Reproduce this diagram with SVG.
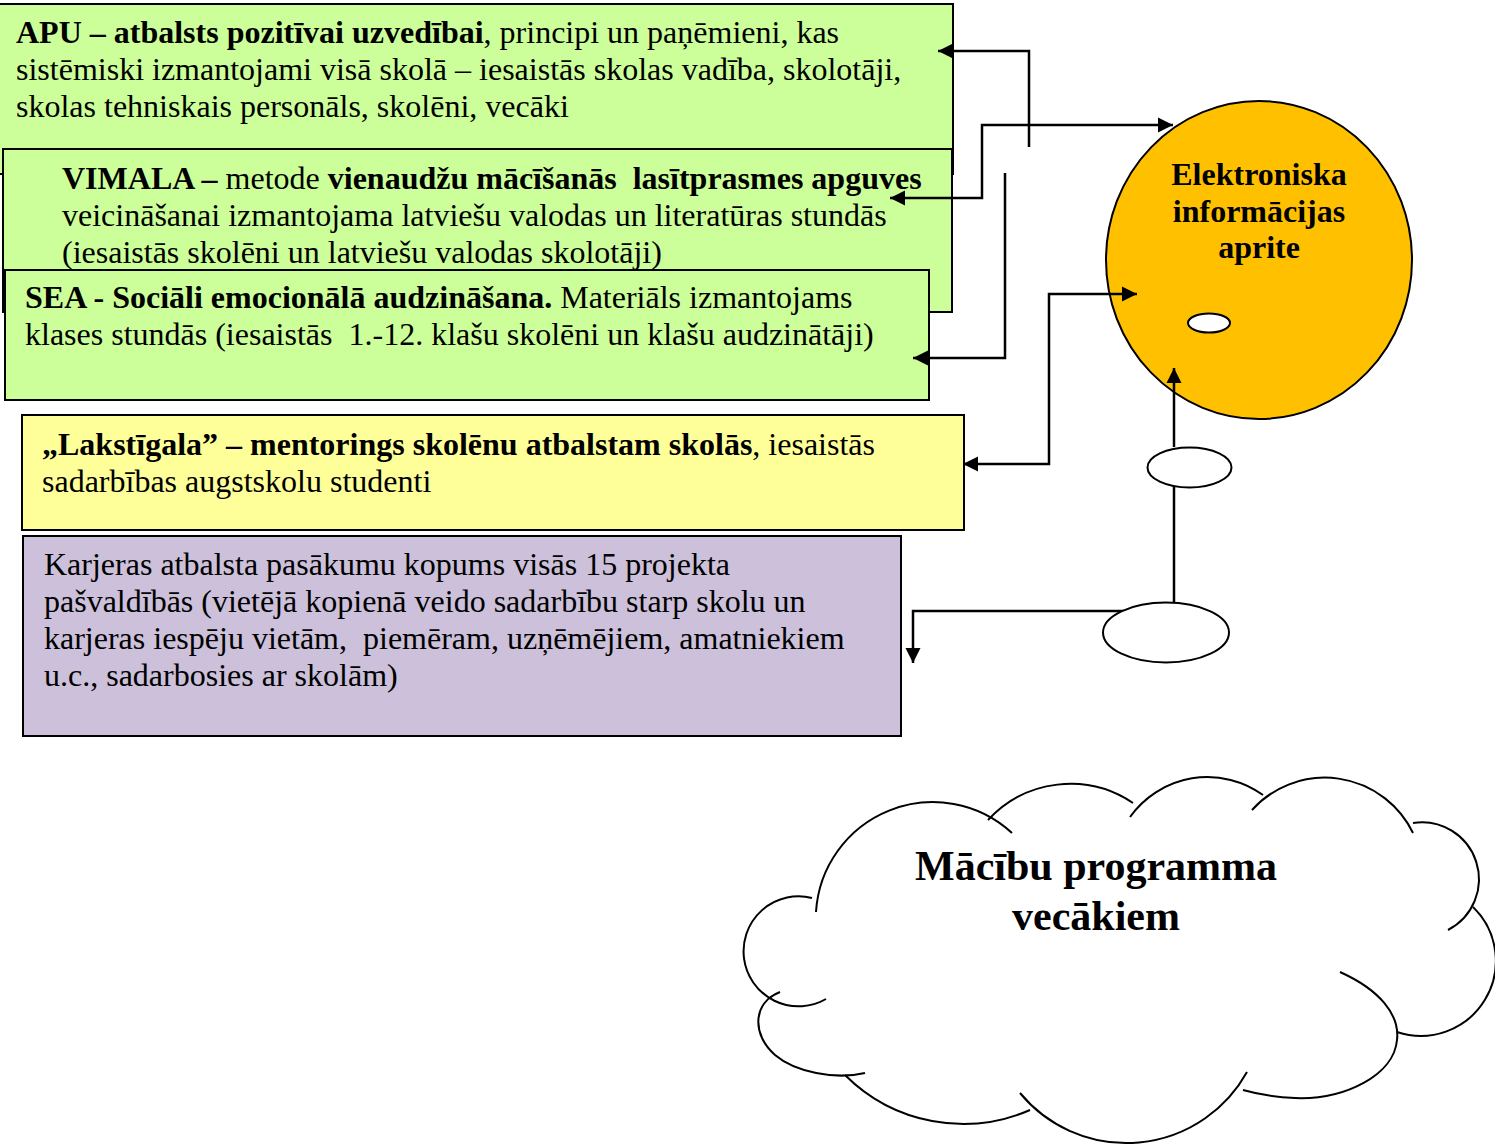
<svg xmlns="http://www.w3.org/2000/svg" width="1495" height="1147" viewBox="0 0 1495 1147">
<style>
text{font-family:"Liberation Serif","Times New Roman",serif;fill:#000;white-space:pre}
.t{font-size:32px}
.b{font-weight:bold}
.box{stroke:#000;stroke-width:2}
.con{fill:none;stroke:#000;stroke-width:2.5}
.cloud{fill:none;stroke:#000;stroke-width:2}
.ell{fill:#fff;stroke:#000;stroke-width:2}
</style>
<defs>
<marker id="ah" viewBox="0 0 16 16" markerUnits="userSpaceOnUse" markerWidth="16" markerHeight="16" refX="15" refY="8" orient="auto-start-reverse">
<path d="M0,0.5 L15,8 L0,15.5 z" fill="#000"/>
</marker>
</defs>
<rect width="1495" height="1147" fill="#fff"/>

<g id="apu">
<rect class="box" x="-2" y="4" width="955" height="170" fill="#CCFF99"/>
<text class="t"><tspan x="16" y="43"><tspan class="b">APU – atbalsts pozitīvai uzvedībai</tspan>, principi un paņēmieni, kas</tspan><tspan x="16" y="80">sistēmiski izmantojami visā skolā – iesaistās skolas vadība, skolotāji,</tspan><tspan x="16" y="117">skolas tehniskais personāls, skolēni, vecāki</tspan></text>
</g>

<g id="vimala">
<rect class="box" x="3" y="149" width="949" height="163" fill="#CCFF99"/>
<text class="t"><tspan x="62" y="189"><tspan class="b">VIMALA –</tspan> metode <tspan class="b">vienaudžu mācīšanās  lasītprasmes apguves</tspan></tspan><tspan x="62" y="226">veicināšanai izmantojama latviešu valodas un literatūras stundās</tspan><tspan x="62" y="263">(iesaistās skolēni un latviešu valodas skolotāji)</tspan></text>
</g>

<g id="sea">
<rect class="box" x="5" y="270" width="924" height="130" fill="#CCFF99"/>
<text class="t"><tspan x="25" y="308"><tspan class="b">SEA - Sociāli emocionālā audzināšana.</tspan> Materiāls izmantojams</tspan><tspan x="25" y="345">klases stundās (iesaistās  1.-12. klašu skolēni un klašu audzinātāji)</tspan></text>
</g>

<g id="lakstigala">
<rect class="box" x="22" y="415" width="942" height="115" fill="#FFFF99"/>
<text class="t"><tspan x="42" y="455"><tspan class="b">„Lakstīgala” – mentorings skolēnu atbalstam skolās</tspan>, iesaistās</tspan><tspan x="42" y="492">sadarbības augstskolu studenti</tspan></text>
</g>

<g id="karjeras">
<rect class="box" x="23" y="536" width="878" height="200" fill="#CCC0DA"/>
<text class="t"><tspan x="44" y="575">Karjeras atbalsta pasākumu kopums visās 15 projekta</tspan><tspan x="44" y="612">pašvaldībās (vietējā kopienā veido sadarbību starp skolu un</tspan><tspan x="44" y="649">karjeras iespēju vietām,  piemēram, uzņēmējiem, amatniekiem</tspan><tspan x="44" y="686">u.c., sadarbosies ar skolām)</tspan></text>
</g>

<g id="informacija">
<ellipse cx="1259" cy="260" rx="153" ry="159" fill="#FFC000" stroke="#000" stroke-width="2"/>
<text class="b" font-size="32" text-anchor="middle"><tspan x="1259" y="185">Elektroniska</tspan><tspan x="1259" y="222">informācijas</tspan><tspan x="1259" y="258">aprite</tspan></text>
</g>

<g id="connectors">
<path class="con" d="M1029,147 V51 H938" marker-end="url(#ah)"/>
<path class="con" d="M890,198 H982 V125 H1173" marker-start="url(#ah)" marker-end="url(#ah)"/>
<path class="con" d="M1005,173 V358 H913" marker-end="url(#ah)"/>
<path class="con" d="M1137,294 H1049 V464 H963" marker-start="url(#ah)" marker-end="url(#ah)"/>
<path class="con" d="M1174,447 V368" marker-end="url(#ah)"/>
<path class="con" d="M1174,604 V486"/>
<path class="con" d="M1126,611 H913 V663" marker-end="url(#ah)"/>
</g>

<g id="ellipse-small">
<ellipse class="ell" cx="1209" cy="323" rx="21" ry="9.5"/>
</g>
<g id="ellipse-mid">
<ellipse class="ell" cx="1189.5" cy="467.5" rx="42" ry="20"/>
</g>
<g id="ellipse-low">
<ellipse class="ell" cx="1166" cy="632.5" rx="63" ry="30"/>
</g>

<g id="cloud">
<path class="cloud" d="M816,912 A117,117 0 0 1 1012,833"/>
<path class="cloud" d="M988,820 A112,112 0 0 1 1133,803"/>
<path class="cloud" d="M1130,817 A95,95 0 0 1 1263,795"/>
<path class="cloud" d="M1252,810 A98,98 0 0 1 1413,833"/>
<path class="cloud" d="M1413,823 A57,57 0 0 1 1448,930"/>
<path class="cloud" d="M1473,907 A75,75 0 0 1 1397,1032"/>
<path class="cloud" d="M1340,972 C1380,990 1400,1015 1397,1040 C1394,1075 1345,1100 1295,1098 C1272,1097 1257,1094 1243,1090"/>
<path class="cloud" d="M1247,1072 A138,138 0 0 1 1020,1093"/>
<path class="cloud" d="M1030,1110 A167,167 0 0 1 845,1075"/>
<path class="cloud" d="M865,1073 C835,1080 795,1072 775,1055 C752,1035 752,1003 780,992"/>
<path class="cloud" d="M826,999 A55,55 0 1 1 812,898"/>
<text class="b" font-size="42" text-anchor="middle"><tspan x="1096" y="880">Mācību programma</tspan><tspan x="1096" y="930">vecākiem</tspan></text>
</g>
</svg>
